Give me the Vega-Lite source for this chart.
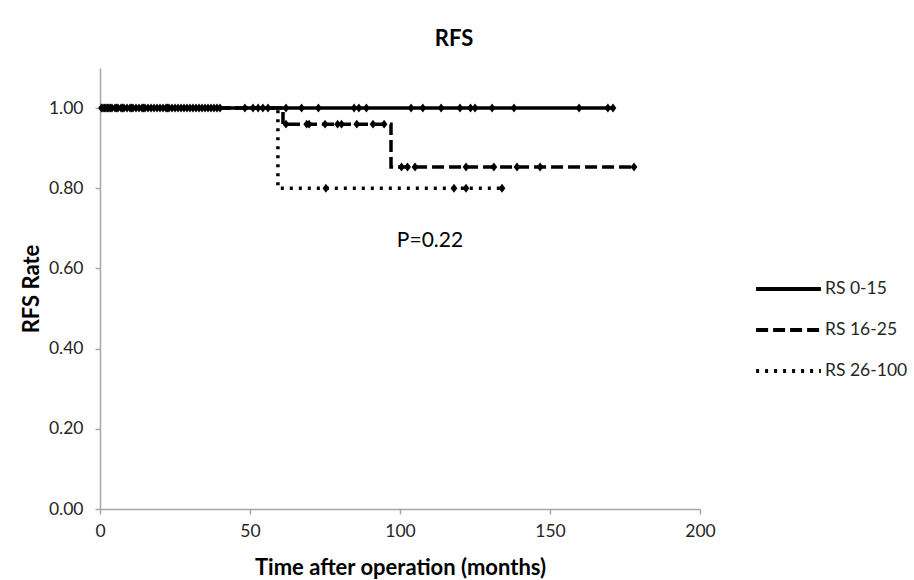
{
  "$schema": "https://vega.github.io/schema/vega-lite/v6.json",
  "width": 600,
  "height": 441,
  "autosize": {"type": "none"},
  "padding": {"left": 100, "top": 68, "right": 214, "bottom": 71},
  "background": "white",
  "config": {
    "font": "Lato",
    "view": {"stroke": null},
    "axis": {
      "grid": false,
      "labelFlush": false,
      "domainColor": "#a6a6a6",
      "domainWidth": 1.5,
      "tickColor": "#a6a6a6",
      "tickWidth": 1.5,
      "tickSize": 5,
      "labelFont": "Lato",
      "labelFontSize": 17.5,
      "labelColor": "#262626",
      "titleFont": "Lato",
      "titleFontSize": 22,
      "titleFontWeight": "bold",
      "titleColor": "#000000"
    }
  },
  "title": {
    "text": "RFS",
    "anchor": "middle",
    "dx": 54,
    "offset": 17,
    "fontSize": 22,
    "fontWeight": "bold",
    "font": "Lato",
    "color": "#000000"
  },
  "datasets": {
    "curves": [
      {"group": "RS 0-15", "t": 0, "rate": 1},
      {"group": "RS 0-15", "t": 171, "rate": 1},
      {"group": "RS 16-25", "t": 0, "rate": 1},
      {"group": "RS 16-25", "t": 61, "rate": 0.96},
      {"group": "RS 16-25", "t": 97, "rate": 0.853},
      {"group": "RS 16-25", "t": 178, "rate": 0.853},
      {"group": "RS 26-100", "t": 0, "rate": 1},
      {"group": "RS 26-100", "t": 59.3, "rate": 0.8},
      {"group": "RS 26-100", "t": 134, "rate": 0.8}
    ],
    "censored": [
      {"group": "RS 0-15", "t": 0.5, "rate": 1}, {"group": "RS 0-15", "t": 1, "rate": 1},
      {"group": "RS 0-15", "t": 1.5, "rate": 1}, {"group": "RS 0-15", "t": 2, "rate": 1},
      {"group": "RS 0-15", "t": 2.5, "rate": 1}, {"group": "RS 0-15", "t": 3, "rate": 1},
      {"group": "RS 0-15", "t": 3.5, "rate": 1}, {"group": "RS 0-15", "t": 4, "rate": 1},
      {"group": "RS 0-15", "t": 5, "rate": 1}, {"group": "RS 0-15", "t": 5.5, "rate": 1},
      {"group": "RS 0-15", "t": 6, "rate": 1}, {"group": "RS 0-15", "t": 7, "rate": 1},
      {"group": "RS 0-15", "t": 7.5, "rate": 1}, {"group": "RS 0-15", "t": 8, "rate": 1},
      {"group": "RS 0-15", "t": 9, "rate": 1}, {"group": "RS 0-15", "t": 10, "rate": 1},
      {"group": "RS 0-15", "t": 10.5, "rate": 1}, {"group": "RS 0-15", "t": 11, "rate": 1},
      {"group": "RS 0-15", "t": 12, "rate": 1}, {"group": "RS 0-15", "t": 13, "rate": 1},
      {"group": "RS 0-15", "t": 14, "rate": 1}, {"group": "RS 0-15", "t": 14.5, "rate": 1},
      {"group": "RS 0-15", "t": 15, "rate": 1}, {"group": "RS 0-15", "t": 16, "rate": 1},
      {"group": "RS 0-15", "t": 17, "rate": 1}, {"group": "RS 0-15", "t": 18, "rate": 1},
      {"group": "RS 0-15", "t": 19, "rate": 1}, {"group": "RS 0-15", "t": 20, "rate": 1},
      {"group": "RS 0-15", "t": 21, "rate": 1}, {"group": "RS 0-15", "t": 22, "rate": 1},
      {"group": "RS 0-15", "t": 22.5, "rate": 1}, {"group": "RS 0-15", "t": 23, "rate": 1},
      {"group": "RS 0-15", "t": 24, "rate": 1}, {"group": "RS 0-15", "t": 25, "rate": 1},
      {"group": "RS 0-15", "t": 26, "rate": 1}, {"group": "RS 0-15", "t": 27, "rate": 1},
      {"group": "RS 0-15", "t": 28, "rate": 1}, {"group": "RS 0-15", "t": 29, "rate": 1},
      {"group": "RS 0-15", "t": 30, "rate": 1}, {"group": "RS 0-15", "t": 31, "rate": 1},
      {"group": "RS 0-15", "t": 32, "rate": 1}, {"group": "RS 0-15", "t": 33, "rate": 1},
      {"group": "RS 0-15", "t": 34, "rate": 1}, {"group": "RS 0-15", "t": 35, "rate": 1},
      {"group": "RS 0-15", "t": 36, "rate": 1}, {"group": "RS 0-15", "t": 37, "rate": 1},
      {"group": "RS 0-15", "t": 38, "rate": 1}, {"group": "RS 0-15", "t": 39, "rate": 1},
      {"group": "RS 0-15", "t": 40, "rate": 1},
      {"group": "RS 0-15", "t": 48.3, "rate": 1}, {"group": "RS 0-15", "t": 51, "rate": 1},
      {"group": "RS 0-15", "t": 52.7, "rate": 1}, {"group": "RS 0-15", "t": 54.3, "rate": 1},
      {"group": "RS 0-15", "t": 56, "rate": 1}, {"group": "RS 0-15", "t": 62, "rate": 1},
      {"group": "RS 0-15", "t": 67.2, "rate": 1}, {"group": "RS 0-15", "t": 72.8, "rate": 1},
      {"group": "RS 0-15", "t": 84.7, "rate": 1}, {"group": "RS 0-15", "t": 86.3, "rate": 1},
      {"group": "RS 0-15", "t": 88.8, "rate": 1}, {"group": "RS 0-15", "t": 103.7, "rate": 1},
      {"group": "RS 0-15", "t": 107.6, "rate": 1}, {"group": "RS 0-15", "t": 113.7, "rate": 1},
      {"group": "RS 0-15", "t": 120, "rate": 1}, {"group": "RS 0-15", "t": 123.5, "rate": 1},
      {"group": "RS 0-15", "t": 125, "rate": 1}, {"group": "RS 0-15", "t": 130.7, "rate": 1},
      {"group": "RS 0-15", "t": 138, "rate": 1}, {"group": "RS 0-15", "t": 159.7, "rate": 1},
      {"group": "RS 0-15", "t": 169.3, "rate": 1}, {"group": "RS 0-15", "t": 171, "rate": 1},
      {"group": "RS 16-25", "t": 62, "rate": 0.96}, {"group": "RS 16-25", "t": 68.9, "rate": 0.96},
      {"group": "RS 16-25", "t": 69.7, "rate": 0.96}, {"group": "RS 16-25", "t": 75, "rate": 0.96},
      {"group": "RS 16-25", "t": 79.2, "rate": 0.96}, {"group": "RS 16-25", "t": 80.5, "rate": 0.96},
      {"group": "RS 16-25", "t": 85.6, "rate": 0.96}, {"group": "RS 16-25", "t": 91, "rate": 0.96},
      {"group": "RS 16-25", "t": 94.7, "rate": 0.96},
      {"group": "RS 16-25", "t": 100.5, "rate": 0.853}, {"group": "RS 16-25", "t": 102.5, "rate": 0.853},
      {"group": "RS 16-25", "t": 105, "rate": 0.853}, {"group": "RS 16-25", "t": 122, "rate": 0.853},
      {"group": "RS 16-25", "t": 131.3, "rate": 0.853}, {"group": "RS 16-25", "t": 139, "rate": 0.853},
      {"group": "RS 16-25", "t": 146.7, "rate": 0.853}, {"group": "RS 16-25", "t": 178, "rate": 0.853},
      {"group": "RS 26-100", "t": 75.3, "rate": 0.8}, {"group": "RS 26-100", "t": 118, "rate": 0.8},
      {"group": "RS 26-100", "t": 122, "rate": 0.8}, {"group": "RS 26-100", "t": 134, "rate": 0.8}
    ],
    "notes": [
      {"t": 110, "rate": 0.669, "label": "P=0.22"}
    ]
  },
  "layer": [
    {
      "data": {"name": "curves"},
      "mark": {"type": "line", "interpolate": "step-after", "color": "black", "strokeWidth": 3.5},
      "encoding": {
        "x": {
          "field": "t", "type": "quantitative",
          "scale": {"domain": [0, 200], "nice": false},
          "axis": {"values": [0, 50, 100, 150, 200], "title": "Time after operation (months)", "labelPadding": 8, "titlePadding": 18}
        },
        "y": {
          "field": "rate", "type": "quantitative",
          "scale": {"domain": [0, 1.1], "nice": false},
          "axis": {"values": [0, 0.2, 0.4, 0.6, 0.8, 1.0], "format": ".2f", "title": "RFS Rate", "labelPadding": 12, "titlePadding": 5}
        },
        "strokeDash": {
          "field": "group", "type": "nominal",
          "scale": {"domain": ["RS 0-15", "RS 16-25", "RS 26-100"], "range": [[1, 0], [12, 5], [3, 6]]},
          "legend": {
            "title": null,
            "orient": "none",
            "legendX": 654,
            "legendY": 201,
            "symbolType": "stroke",
            "symbolStrokeColor": "black",
            "symbolStrokeWidth": 4,
            "symbolSize": 4200,
            "clipHeight": 40,
            "labelFont": "Lato",
            "labelFontSize": 17.5,
            "labelColor": "#262626",
            "labelOffset": 2,
            "rowPadding": 1
          }
        },
        "detail": {"field": "group"}
      }
    },
    {
      "data": {"name": "censored"},
      "mark": {"type": "point", "shape": "M0,-1L0.75,0L0,1L-0.75,0Z", "filled": true, "color": "black", "opacity": 1, "size": 80},
      "encoding": {
        "x": {"field": "t", "type": "quantitative"},
        "y": {"field": "rate", "type": "quantitative"}
      }
    },
    {
      "data": {"name": "notes"},
      "mark": {"type": "text", "font": "Lato", "fontSize": 21, "color": "#000000"},
      "encoding": {
        "x": {"field": "t", "type": "quantitative"},
        "y": {"field": "rate", "type": "quantitative"},
        "text": {"field": "label"}
      }
    }
  ]
}
